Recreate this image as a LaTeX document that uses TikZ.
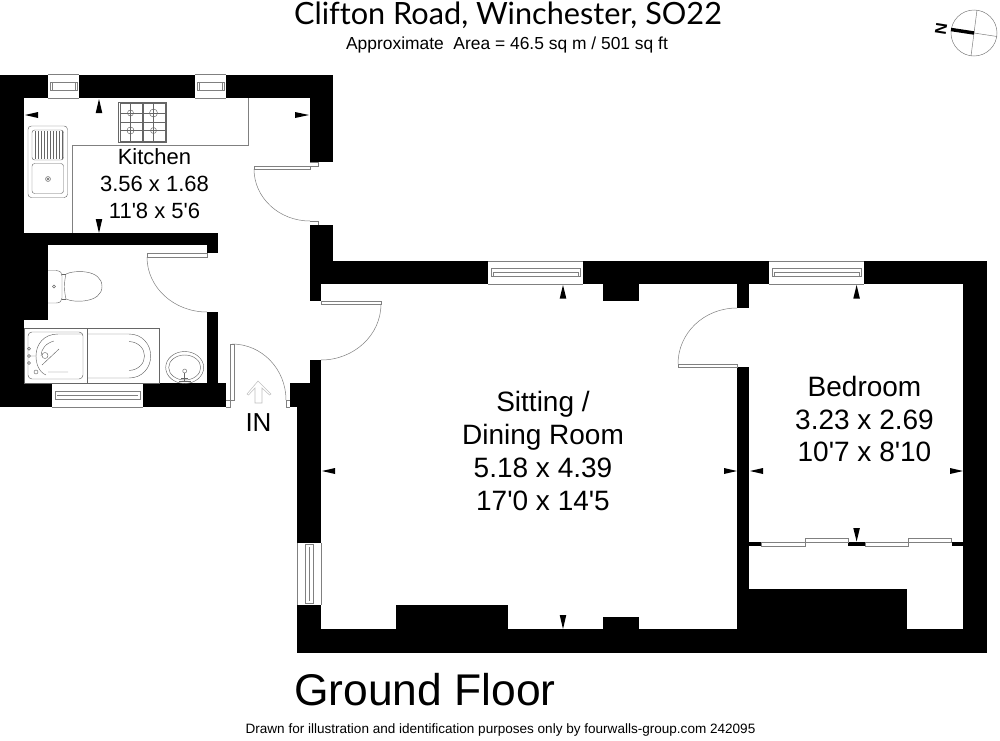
\documentclass[tikz,border=0pt]{standalone}
\usepackage{fontspec}
\newfontfamily\lab{Liberation Sans}
\newfontfamily\ttl[Ligatures=NoCommon]{Lato}
\tikzset{
  wall/.style={fill=black,draw=none},
  fine/.style={draw=black!50,line width=0.38pt},
  fixt/.style={draw=black!60,line width=0.33pt},
  tip/.style={fill=black,draw=none},
  room/.style={align=center,inner sep=0pt,text=black},
  roomS/.style={room,font=\lab\fontsize{16.5}{20.25}\selectfont},
  roomL/.style={room,font=\lab\fontsize{21}{24.6}\selectfont}
}
\begin{document}
\begin{tikzpicture}[x=0.75pt,y=-0.75pt]
\useasboundingbox (0,0) rectangle (1000,740);
% walls
\foreach \a/\b/\c/\d in {
 0/74.5/24/407, 0/74.5/48/98, 79/74.5/195/98, 226/74.5/333/98, 310/74.5/333/162,
 24/233/218/245, 207/245/218/253, 24/233/48/320, 0/383/52/407, 143/383/226/407,
 207/312/218/383, 310/225/333/284, 310/284/321/301, 310/261/488/284, 583/261/769/284,
 864/261/987/284, 602.7/284/639/300.7, 737/284/749/308, 737/367/749/629, 963/261/987/653,
 297/629/987/653, 297/383/321/542.5, 297/605/321/653, 290/383/310/407, 310/360/321/383,
 396/605/507.6/629, 602.7/617/639/629, 749/589/907/630, 749/542/761/546, 848/542/865/546, 951.7/542/963/546}
 {\fill[wall] (\a,\b) rectangle (\c,\d);}
% windows
\foreach \a/\b in {48/79,195/226}{
 \draw[fine] (\a,74.5) -- (\b,74.5) (\a,98) -- (\b,98);
 \draw[fine] (\a+2,82) rectangle (\b-2,90);
 \draw[fine] (\a+4,82) -- (\a+4,90) (\b-4,82) -- (\b-4,90);
}
\foreach \a/\b in {488/583,769/864}{
 \draw[fine] (\a,261) -- (\b,261) (\a,284) -- (\b,284);
 \draw[fine] (\a+3,268.5) rectangle (\b-3,276.5);
 \draw[fine] (\a+5,272.5) rectangle (\b-5,276.5);
}
\draw[fine] (52,383) -- (143,383) (52,407) -- (143,407);
\draw[fine] (55,391) rectangle (140,399);
\draw[fine] (57,395) -- (138,395);
\draw[fine] (297,542.5) -- (297,605) (321,542.5) -- (321,605);
\draw[fine] (305,544.5) rectangle (313,603);
\draw[fine] (309,546.5) -- (309,601);
% wardrobe sliders
\draw[fine] (761,542) rectangle (805,546);
\draw[fine] (805,538) rectangle (848,542);
\draw[fine] (865,542) rectangle (908,546);
\draw[fine] (908,538) rectangle (951.7,542);
% doors
\draw[fine] (254,166) rectangle (310,169);
\draw[fine] (310,162) -- (318,162) -- (318,166) -- (310,166);
\draw[fine] (310,221) -- (318,221) -- (318,225);
\draw[fine] (254,169) .. controls (254,197.7) and (279,221) .. (310,221);
\draw[fine] (147,253) rectangle (207,257);
\draw[fine] (147,257) .. controls (147,287.4) and (173.9,312) .. (207,312);
\draw[fine] (230,344) rectangle (234.5,400);
\draw[fine] (232,344) .. controls (261.8,344) and (286,369) .. (286,400);
\draw[fine] (226,400) -- (230,400) -- (230,407) -- (226,407);
\draw[fine] (290,400) -- (286,400) -- (286,407) -- (290,407);
\draw[fine] (321,301) rectangle (381,304);
\draw[fine] (381,304) .. controls (381,335) and (354,360) .. (321,360);
\draw[fine] (678,364) rectangle (737,367);
\draw[fine] (678,364) .. controls (678,333) and (704,308) .. (737,308);
% IN arrow
\draw[draw=black!25,line width=0.4pt] (258,381) -- (271,394) -- (269.5,395) -- (262,388) -- (262,403) -- (255,403) -- (255,388) -- (248.5,395) -- (247,394) -- cycle;
% dimension ticks
\fill[tip] (99,99) -- (102.3,113) -- (95.7,113) -- cycle;
\fill[tip] (99,233) -- (102.3,219) -- (95.7,219) -- cycle;
\fill[tip] (25,115) -- (38,112) -- (38,118) -- cycle;
\fill[tip] (309,115) -- (295,112) -- (295,118) -- cycle;
\foreach \x in {563,856.6}{\fill[tip] (\x,285) -- (\x+3.3,298.5) -- (\x-3.3,298.5) -- cycle;}
\fill[tip] (563,629) -- (566.3,615) -- (559.7,615) -- cycle;
\fill[tip] (856.6,541.5) -- (859.9,528) -- (853.3,528) -- cycle;
\foreach \x/\e in {322/335,750/763}{\fill[tip] (\x,471) -- (\e,468) -- (\e,474) -- cycle;}
\foreach \x/\e in {737/724,963/950}{\fill[tip] (\x,471) -- (\e,468) -- (\e,474) -- cycle;}
% worktop
\draw[fine] (248,98) -- (248,145.7) -- (72,145.7) -- (72,233);
% hob
\draw[fixt] (118,102) rectangle (166,142);
\draw[fixt] (120,103.5) rectangle (142,141) (143,103.5) rectangle (165,141);
\draw[fixt] (130.5,103.5) -- (130.5,141) (153.5,103.5) -- (153.5,141)
 (120,113) -- (142,113) (143,113) -- (165,113) (120,122) -- (165,122) (120,130.5) -- (142,130.5) (143,130.5) -- (165,130.5);
\foreach \x/\y/\r in {130.5/113/3,153.5/113/4,130.5/130.5/3.5,153.5/130.5/3}{\draw[fixt] (\x,\y) circle[radius=\r];}
% sink
\draw[fixt,rounded corners=2.5pt] (28,126) rectangle (67.5,197.5);
\draw[fixt,rounded corners=2pt] (32,130) rectangle (63.5,160);
\draw[fixt,rounded corners=2pt] (32,163.5) rectangle (63.5,193.5);
\foreach \x in {35,38,...,62}{\draw[fixt] (\x,131) -- (\x,159);}
\draw[fixt] (48,179) circle[radius=2.5] (48,179) circle[radius=1];
% toilet
\draw[fixt] (48,270.5) -- (56,270.5) .. controls (61,271) and (62,273) .. (62,276) -- (62,298) .. controls (62,301) and (60,303) .. (56,303) -- (48,303);
\draw[fixt] (62,274) -- (66,274) (62,299) -- (66,299);
\draw[fixt] (66,274) .. controls (74,270) and (102,269) .. (102,286.5) .. controls (102,303) and (74,303) .. (66,299) .. controls (64,291) and (64,282) .. (66,274);
\draw[fixt] (54,286.5) circle[radius=1.5];
% bath
\draw[fixt] (24,328) rectangle (159,383);
\draw[fixt] (87.5,328) -- (87.5,383);
\draw[fixt,rounded corners=3pt] (28,332) rectangle (83,379);
\draw[fixt] (87.5,334) -- (129,334) .. controls (142,334) and (150.7,344) .. (150.7,356) .. controls (150.7,368) and (142,378) .. (129,378) -- (87.5,378);
\draw[fixt] (83,334) -- (58,334) .. controls (44,334) and (36,344) .. (36,356) .. controls (36,364) and (39,372) .. (46,375);
\draw[fixt] (129,341.5) .. controls (139,342) and (144.5,349) .. (144.5,356) .. controls (144.5,363) and (139,370) .. (129,370.5);
\draw[fixt] (54,341) .. controls (46,343) and (41,349) .. (41,356);
\draw[fixt] (42,365) -- (59,349) (48,372) -- (68,372) (29,356) -- (36,356);
\draw[fixt] (45,355.5) circle[radius=3] (36,372) circle[radius=2];
\foreach \y in {348.7,356,363}{\draw[fixt] (29,\y) circle[radius=1.5];}
% basin
\draw[fixt] (184.7,367.5) ellipse[x radius=19,y radius=16];
\draw[fixt] (184.7,367.5) ellipse[x radius=16,y radius=12.5];
\draw[fixt] (184.7,371) circle[radius=2];
\draw[fixt] (184.7,373) -- (184.7,381) (179,381) -- (190.5,381) (181,378) -- (188,378);
% compass
\draw[fine] (974,33) circle[radius=23];
\draw[fine] (977,10) -- (971,56) (974,33) -- (997,36.5);
\draw[black,line width=2.6pt] (951,29.5) -- (974,33);
\node[inner sep=0pt,rotate=81] (northmark) at (941,29) {\lab\fontsize{12}{12}\selectfont\bfseries N};
% text
\node[room] (title) at (508,15.5) {\ttl\fontsize{23}{23}\selectfont Clifton Road, Winchester, SO22};
\node[room] (area) at (507,44.5) {\lab\fontsize{13.06}{14}\selectfont Approximate\ \ Area = 46.5 sq m / 501 sq ft};
\node[roomS] (kitchen) at (154.5,184) {Kitchen\\3.56 x 1.68\\11'8 x 5'6};
\node[roomL] (sitting) at (543,451) {Sitting /\\Dining Room\\5.18 x 4.39\\17'0 x 14'5};
\node[roomL] (bedroom) at (864.5,419) {Bedroom\\3.23 x 2.69\\10'7 x 8'10};
\node[room] (inlabel) at (258.5,423) {\lab\fontsize{19.5}{20}\selectfont IN};
\node[room] (floor) at (425,690) {\lab\fontsize{33.3}{34}\selectfont Ground Floor};
\node[room] (footer) at (500.5,730) {\lab\fontsize{10.16}{11}\selectfont Drawn for illustration and identification purposes only by fourwalls-group.com 242095};
\end{tikzpicture}
\end{document}
